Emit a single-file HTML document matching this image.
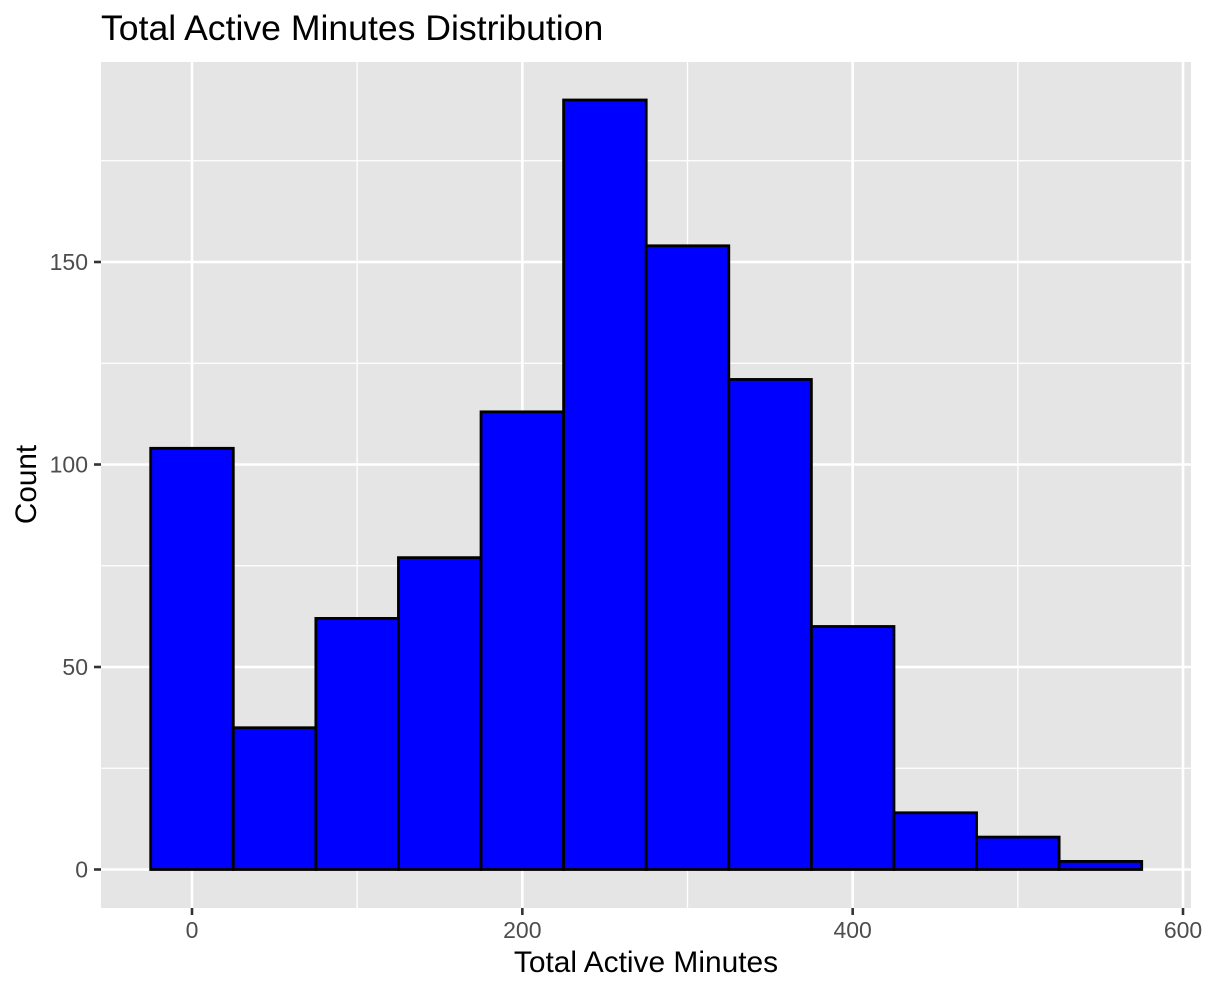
<!DOCTYPE html>
<html>
<head>
<meta charset="utf-8">
<title>Total Active Minutes Distribution</title>
<style>
html,body{margin:0;padding:0;background:#fff;}
svg{display:block;}
text{font-family:"Liberation Sans",Arial,sans-serif;}
</style>
</head>
<body>
<svg id="chart" width="1206" height="992" viewBox="0 0 1206 992" xmlns="http://www.w3.org/2000/svg"></svg>
<script>
const binCenters = [0, 50, 100, 150, 200, 250, 300, 350, 400, 450, 500, 550];
const binCounts = [104, 35, 62, 77, 113, 190, 154, 121, 60, 14, 8, 2];
const binWidth = 50;
const xTicks = [0, 200, 400, 600];
const xMinorGrid = [100, 300, 500];
const yTicks = [0, 50, 100, 150];
const yMinorGrid = [25, 75, 125, 175];

const panelLeft = 101, panelRight = 1191, panelTop = 62, panelBottom = 908;
function xScale(v){ return 192 + v * (1183 - 192) / 600; }
function yScale(v){ return 869.5 - v * (869.5 - 262) / 150; }

const svg = document.getElementById('chart');
const NS = 'http://www.w3.org/2000/svg';
function make(tag, attrs, parent){
  const el = document.createElementNS(NS, tag);
  for (const k in attrs) el.setAttribute(k, attrs[k]);
  (parent || svg).appendChild(el);
  return el;
}

const panel = make('rect', {x: panelLeft, y: panelTop, width: panelRight - panelLeft, height: panelBottom - panelTop, fill: '#e5e5e5'});



yMinorGrid.forEach(function(v){
  const g = make('line', {x1: panelLeft, x2: panelRight, y1: yScale(v), y2: yScale(v), stroke: '#fff', 'stroke-width': 1.3});
  
  
});
xMinorGrid.forEach(function(v){
  const g = make('line', {x1: xScale(v), x2: xScale(v), y1: panelTop, y2: panelBottom, stroke: '#fff', 'stroke-width': 1.3});
  
  
});
yTicks.forEach(function(v){
  const g = make('line', {x1: panelLeft, x2: panelRight, y1: yScale(v), y2: yScale(v), stroke: '#fff', 'stroke-width': 2.6});
  
  
});
xTicks.forEach(function(v){
  const g = make('line', {x1: xScale(v), x2: xScale(v), y1: panelTop, y2: panelBottom, stroke: '#fff', 'stroke-width': 2.6});
  
  
});

binCenters.forEach(function(c, i){
  const x0 = xScale(c - binWidth / 2), x1 = xScale(c + binWidth / 2);
  const y0 = yScale(binCounts[i]), y1 = yScale(0);
  const bar = make('rect', {x: x0, y: y0, width: x1 - x0, height: y1 - y0, fill: '#0000ff', stroke: '#000', 'stroke-width': 2.8});
  
  
});

yTicks.forEach(function(v){
  const t = make('line', {x1: 94, x2: panelLeft, y1: yScale(v), y2: yScale(v), stroke: '#333', 'stroke-width': 2.6});
  
  
  const l = make('text', {x: 88, y: yScale(v) + 8.2, 'text-anchor': 'end', 'font-size': 23, fill: '#4d4d4d'});
  l.textContent = String(v);
  
  
});
xTicks.forEach(function(v){
  const t = make('line', {x1: xScale(v), x2: xScale(v), y1: panelBottom, y2: 915, stroke: '#333', 'stroke-width': 2.6});
  
  
  const l = make('text', {x: xScale(v), y: 938, 'text-anchor': 'middle', 'font-size': 23, fill: '#4d4d4d'});
  l.textContent = String(v);
  
  
});

const title = make('text', {x: 101, y: 40, 'font-size': 35.6, fill: '#000'});
title.textContent = 'Total Active Minutes Distribution';



const xTitle = make('text', {x: 646, y: 972, 'text-anchor': 'middle', 'font-size': 29.9, fill: '#000'});
xTitle.textContent = 'Total Active Minutes';



const yTitle = make('text', {x: 0, y: 0, transform: 'translate(36,484.5) rotate(-90)', 'text-anchor': 'middle', 'font-size': 29.7, fill: '#000'});
yTitle.textContent = 'Count';


</script>
</body>
</html>
